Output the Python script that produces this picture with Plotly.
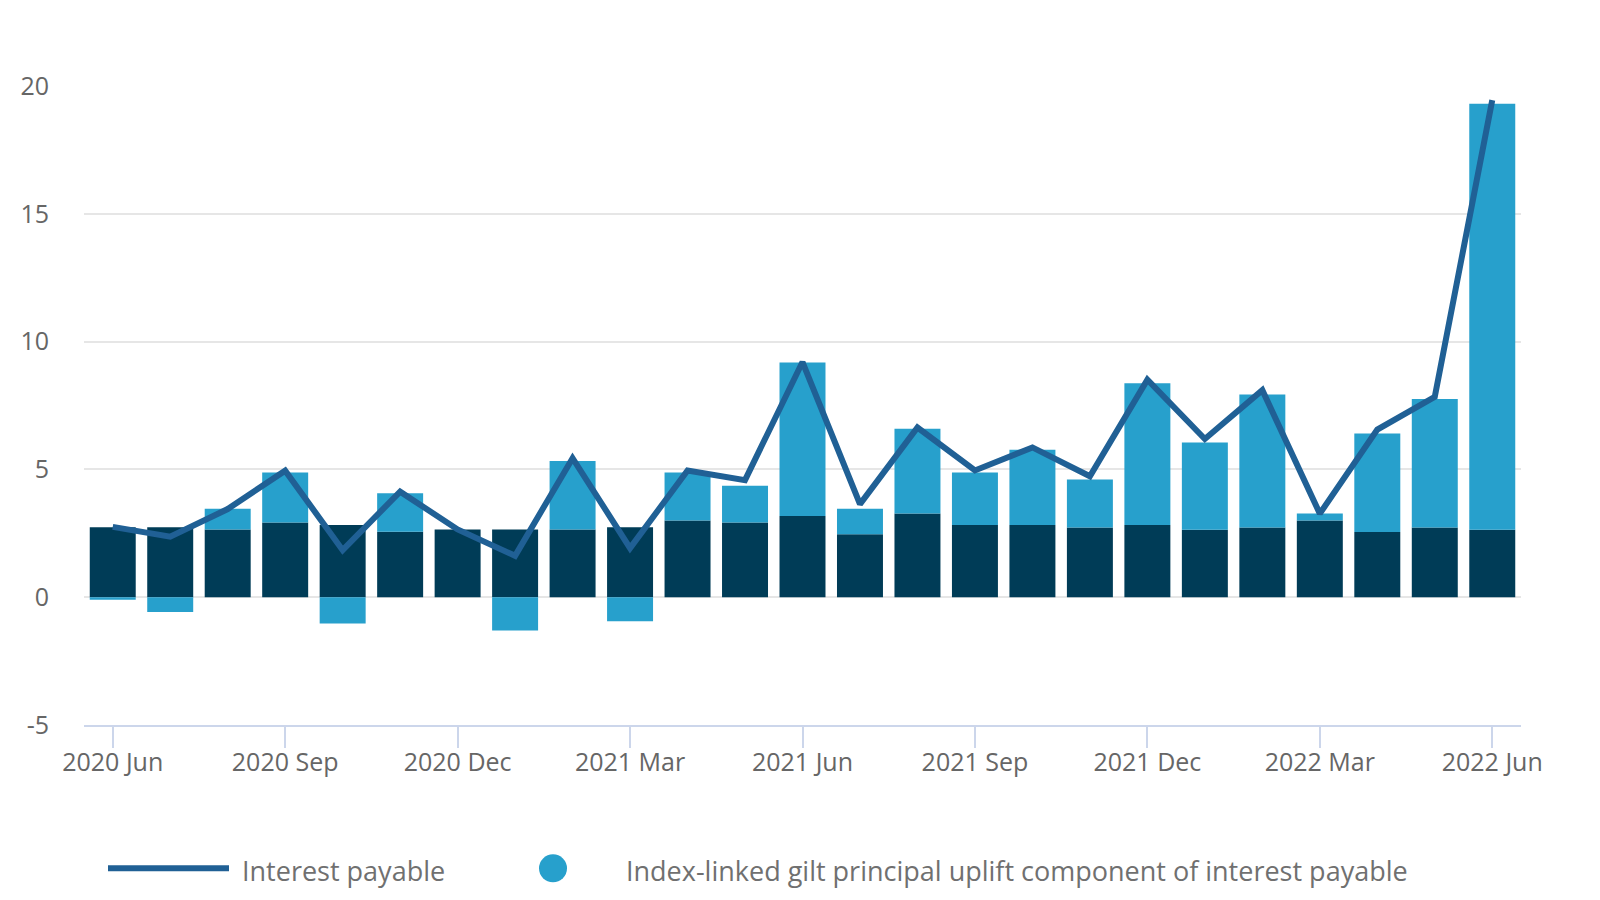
import plotly.graph_objects as go

months = ["2020 Jun", "2020 Jul", "2020 Aug", "2020 Sep", "2020 Oct", "2020 Nov", "2020 Dec",
          "2021 Jan", "2021 Feb", "2021 Mar", "2021 Apr", "2021 May", "2021 Jun", "2021 Jul",
          "2021 Aug", "2021 Sep", "2021 Oct", "2021 Nov", "2021 Dec", "2022 Jan", "2022 Feb",
          "2022 Mar", "2022 Apr", "2022 May", "2022 Jun"]

excl_uplift = [2.74, 2.74, 2.65, 2.92, 2.82, 2.56, 2.65, 2.65, 2.65, 2.74, 3.00, 2.92, 3.18,
               2.46, 3.27, 2.82, 2.82, 2.73, 2.82, 2.64, 2.73, 3.00, 2.55, 2.73, 2.64]

uplift = [-0.10, -0.58, 0.81, 1.96, -1.03, 1.51, 0.00, -1.30, 2.68, -0.94, 1.88, 1.44, 6.00,
          1.00, 3.32, 2.06, 2.95, 1.87, 5.55, 3.41, 5.20, 0.27, 3.85, 5.02, 16.67]

interest_payable = [2.75, 2.37, 3.45, 4.95, 1.84, 4.13, 2.65, 1.62, 5.44, 1.92, 4.96, 4.58, 9.20,
                    3.64, 6.64, 4.96, 5.86, 4.73, 8.51, 6.19, 8.10, 3.27, 6.56, 7.84, 19.45]

tick_labels = ["2020 Jun", "2020 Sep", "2020 Dec", "2021 Mar", "2021 Jun", "2021 Sep",
               "2021 Dec", "2022 Mar", "2022 Jun"]

DARK = "#003c57"
SKY = "#27a0cc"
LINE = "#206095"
FONT = "Open Sans"

fig = go.Figure()
fig.add_trace(go.Bar(x=months, y=excl_uplift, marker=dict(color=DARK, line=dict(width=0)),
                     name="Interest payable excluding uplift", showlegend=False))
fig.add_trace(go.Bar(x=months, y=uplift, marker=dict(color=SKY, line=dict(width=0)),
                     name="Index-linked gilt principal uplift component of interest payable",
                     showlegend=False))
fig.add_trace(go.Scatter(x=months, y=interest_payable, mode="lines",
                         line=dict(color=LINE, width=6), name="Interest payable",
                         showlegend=False))

OFF = 8  # page body margin
L, R, T, B = 84 - OFF, 1521 - OFF, 85.7 - OFF, 725.5 - OFF
W, H = R - L, B - T


def px(x):
    return (x - OFF - L) / W


def py(y):
    return (B - (y - OFF)) / H


legend_y = 869
shapes = [
    dict(type="line", xref="paper", yref="paper", x0=px(108), x1=px(229),
         y0=py(legend_y), y1=py(legend_y), line=dict(color=LINE, width=6)),
    dict(type="circle", xref="paper", yref="paper", x0=px(539), x1=px(567),
         y0=py(legend_y + 14), y1=py(legend_y - 14), fillcolor=SKY, line=dict(width=0)),
]
annotations = [
    dict(text="Interest payable", xref="paper", yref="paper", x=px(240), y=py(legend_y + 2),
         xanchor="left", yanchor="middle", showarrow=False,
         font=dict(family=FONT, size=27, color="#707070")),
    dict(text="Index-linked gilt principal uplift component of interest payable", xref="paper",
         yref="paper", x=px(624), y=py(legend_y + 2), xanchor="left", yanchor="middle",
         showarrow=False, font=dict(family=FONT, size=27, color="#707070")),
]

fig.update_layout(
    width=1600, height=900,
    margin=dict(l=L, r=1600 - R, t=T, b=900 - B),
    barmode="relative", bargap=0.2,
    plot_bgcolor="white", paper_bgcolor="white",
    font=dict(family=FONT, size=25, color="#666666"),
    shapes=shapes, annotations=annotations,
    showlegend=False,
    xaxis=dict(type="category", tickmode="array", tickvals=tick_labels, ticktext=tick_labels,
               ticks="outside", ticklen=21, tickwidth=2, tickcolor="#ccd6eb",
               showline=True, linecolor="#ccd6eb", linewidth=2, showgrid=False,
               ticklabelstandoff=-7,
               tickfont=dict(family=FONT, size=25, color="#666666")),
    yaxis=dict(range=[-5, 20], tickvals=[-5, 0, 5, 10, 15, 20], ticktext=["-5", "0", "5", "10", "15", "20"],
               showgrid=True, gridcolor="#e6e6e6", gridwidth=1.5, zeroline=False, showline=False,
               ticks="", ticklabelstandoff=34,
               tickfont=dict(family=FONT, size=25, color="#666666")),
)

fig.write_html("out.html")
